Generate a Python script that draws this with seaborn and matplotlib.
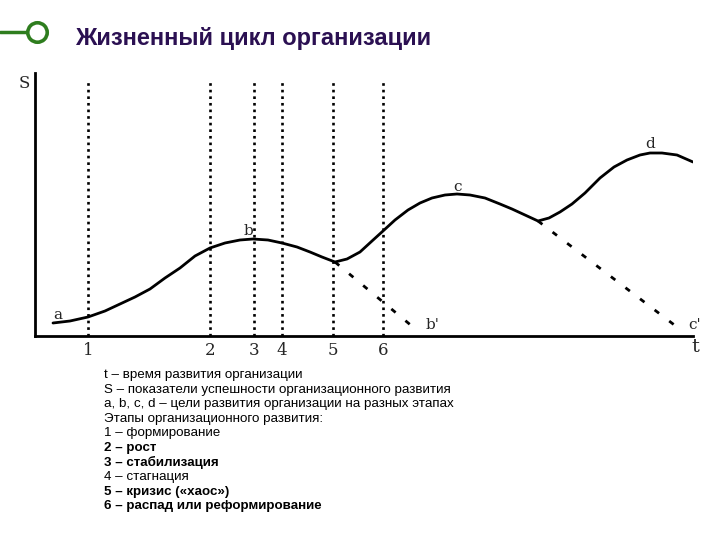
import numpy as np
import pandas as pd
import matplotlib
matplotlib.use("Agg")
import matplotlib.pyplot as plt
from matplotlib.lines import Line2D
import seaborn as sns

# main life-cycle curve (t, S)
curve_t = [18, 35, 53, 70, 85, 100, 115, 130, 145, 160, 175, 190, 205, 218, 233, 247,
           262, 275, 287, 300, 312, 325, 337, 348, 360, 373, 385, 397, 410, 422, 435,
           450, 465, 477, 490, 503, 514, 525, 537, 550, 565, 579, 592, 605, 615, 627,
           642, 658]
curve_s = [13, 15, 19, 25, 32, 39, 47, 58, 68, 80, 88, 93, 96, 97, 96, 93,
           89, 84, 79, 74, 77, 84, 95, 105, 116, 126, 133, 138, 141, 142, 141,
           138, 132, 127, 121, 115, 118, 124, 132, 143, 158, 169, 176, 181, 183, 183,
           181, 174]

# decline branches
b_t = [300, 378]
b_s = [74, 9]
c_t = [503, 642]
c_s = [115, 9]

# stages
stage_t = [53, 175, 219, 247, 298, 348]
stage_labels = ["1", "2", "3", "4", "5", "6"]
stage_top = 256

# goal labels
goal_names = ["a", "b", "c", "d", "b'", "c'"]
goal_t = [23, 213, 422, 615, 398, 660]
goal_s = [21, 105, 149, 192, 11, 11]

notes = [
    ("t – время развития организации", "normal"),
    ("S – показатели успешности организационного развития", "normal"),
    ("a, b, c, d – цели развития организации на разных этапах", "normal"),
    ("Этапы организационного развития:", "normal"),
    ("1 – формирование", "normal"),
    ("2 – рост", "bold"),
    ("3 – стабилизация", "bold"),
    ("4 – стагнация", "normal"),
    ("5 – кризис («хаос»)", "bold"),
    ("6 – распад или реформирование", "bold"),
]

sns.set_theme(style="white")
plt.rcParams["font.family"] = ["Liberation Sans", "DejaVu Sans"]

W, H = 720, 540
fig = plt.figure(figsize=(7.2, 5.4), dpi=100)
fig.patch.set_facecolor("white")

# axes origin at (35, 336) px, right 693, top 73
ax = fig.add_axes([35 / W, 1 - 336 / H, (693 - 35) / W, (336 - 73) / H])
ax.set_xlim(0, 658)
ax.set_ylim(0, 263)

curve = pd.DataFrame({"t": curve_t, "S": curve_s})
sns.lineplot(data=curve, x="t", y="S", ax=ax, color="black", lw=2.0,
             sort=False, estimator=None)

dash = (0, (2.0, 4.6))
sns.lineplot(x=b_t, y=b_s, ax=ax, color="black", lw=2.0, linestyle=dash,
             estimator=None)
sns.lineplot(x=c_t, y=c_s, ax=ax, color="black", lw=2.0, linestyle=dash,
             estimator=None)

for t in stage_t:
    ax.plot([t, t], [0, stage_top], color="black", lw=1.9,
            linestyle=(0, (1, 1.5)))

serif = ["DejaVu Serif"]
for name, t, s in zip(goal_names, goal_t, goal_s):
    ax.text(t, s, name, fontsize=11, family=serif, ha="center", va="center",
            clip_on=False)

ax.set_xticks(stage_t)
ax.set_xticklabels(stage_labels, family=serif, fontsize=12)
ax.set_yticks([])
ax.tick_params(axis="x", length=0, pad=4)
ax.set_xlabel("")
ax.set_ylabel("")

for side in ["top", "right"]:
    ax.spines[side].set_visible(False)
for side in ["left", "bottom"]:
    ax.spines[side].set_color("black")
    ax.spines[side].set_linewidth(2.0)

ax.text(-11, 252, "S", fontsize=12, family=serif, ha="center", va="center",
        clip_on=False)
ax.text(660, -11, "t", fontsize=14, family=serif, ha="center", va="center",
        clip_on=False)

# header
green = "#2E7D1E"
yh = 1 - 32 / H
fig.add_artist(Line2D([0, 27 / W], [yh, yh], color=green, lw=2.5))
fig.add_artist(Line2D([37 / W], [yh], marker="o", markersize=14,
                      markerfacecolor="white", markeredgecolor=green,
                      markeredgewidth=2.6))
fig.text(75 / W, 1 - 38 / H, "Жизненный цикл организации", fontsize=17,
         fontweight="bold", color="#2B1052", va="center", ha="left")

# notes block
y0 = 375
for i, (line, weight) in enumerate(notes):
    fig.text(104 / W, 1 - (y0 + i * 14.6) / H, line, fontsize=9.6,
             fontweight=weight, color="black", va="center", ha="left")

fig.savefig("out.png", dpi=100, facecolor="white")
